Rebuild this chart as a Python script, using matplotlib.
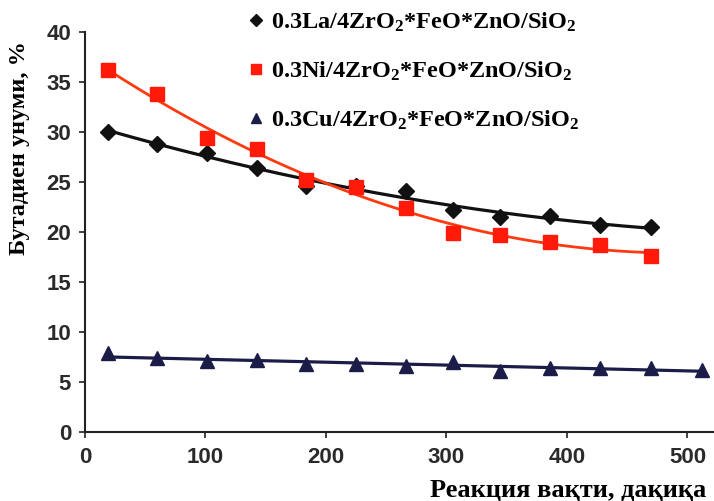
import numpy as np
import matplotlib
matplotlib.use('Agg')
import matplotlib.pyplot as plt

plt.rcParams['mathtext.fontset'] = 'custom'
plt.rcParams['mathtext.rm'] = 'Liberation Serif:bold'
plt.rcParams['mathtext.default'] = 'rm'

# reaction time, min
t = [19, 60, 101, 143, 183, 225, 266, 305, 344, 386, 427, 470]
t_cu = [19, 60, 101, 143, 183, 225, 266, 305, 344, 386, 427, 470, 512]

la = [30.0, 28.8, 27.9, 26.4, 24.6, 24.6, 24.1, 22.2, 21.5, 21.6, 20.7, 20.5]
ni = [36.2, 33.8, 29.4, 28.3, 25.2, 24.5, 22.4, 19.9, 19.7, 19.0, 18.7, 17.6]
cu = [7.9, 7.4, 7.1, 7.2, 6.8, 6.8, 6.6, 7.0, 6.1, 6.4, 6.4, 6.4, 6.2]

labels = ['0.3La/4ZrO$_2$*FeO*ZnO/SiO$_2$',
          '0.3Ni/4ZrO$_2$*FeO*ZnO/SiO$_2$',
          '0.3Cu/4ZrO$_2$*FeO*ZnO/SiO$_2$']

fig = plt.figure(figsize=(7.14, 5.01), dpi=100)
ax = fig.add_axes([85 / 714, 1 - 432 / 501, 1 - 85 / 714, 400 / 501])

# trend lines
for x, y, deg, c, lw in [(t, la, 2, '#111111', 2.3),
                         (t, ni, 2, '#ff3a10', 2.0),
                         (t_cu, cu, 1, '#1c1c48', 2.3)]:
    p = np.polyfit(x, y, deg)
    xs = np.linspace(x[0], x[-1], 200)
    ax.plot(xs, np.polyval(p, xs), color=c, lw=lw, zorder=2)

ax.plot(t, la, 'D', color='#111111', ms=8, ls='none', label=labels[0], zorder=3)
ax.plot(t, ni, 's', color='#ff1a0a', ms=10, ls='none', label=labels[1], zorder=3)
ax.plot(t_cu, cu, '^', color='#1c1c48', ms=10, ls='none', label=labels[2], zorder=3)

ax.set_xlim(0, 522)
ax.set_ylim(0, 40)
ax.set_xticks([0, 100, 200, 300, 400, 500])
ax.set_yticks(range(0, 41, 5))
ax.spines['top'].set_visible(False)
ax.spines['right'].set_visible(False)
for s in ['left', 'bottom']:
    ax.spines[s].set_linewidth(1.5)
    ax.spines[s].set_color('#222222')
ax.tick_params(direction='out', length=4, width=1.2, color='#222222',
               labelsize=16, labelcolor='#2a2a2a')
ax.tick_params(axis='x', pad=7)
ax.tick_params(axis='y', pad=6)
for lab in ax.get_xticklabels() + ax.get_yticklabels():
    lab.set_fontfamily('Liberation Sans')
    lab.set_fontweight('bold')

leg = fig.legend(loc='upper left', bbox_to_anchor=(244 / 714, 1 - 6 / 501),
                 frameon=False, borderpad=0.2, borderaxespad=0.0,
                 handlelength=0.6, handletextpad=0.3,
                 labelspacing=1.05, markerscale=0.75,
                 prop={'family': 'Liberation Serif', 'weight': 'bold', 'size': 17.5})

fig.text(20 / 714, 1 - 148 / 501, 'Бутадиен унуми, %', rotation=90,
         ha='center', va='center', fontsize=17.5, fontweight='bold',
         family=['Liberation Serif', 'DejaVu Serif'])
fig.text(430 / 714, 1 - 490 / 501, 'Реакция вақти, дақиқа',
         ha='left', va='center', fontsize=19, fontweight='bold',
         family=['Liberation Serif', 'DejaVu Serif'])

fig.savefig('out.png', dpi=100)
